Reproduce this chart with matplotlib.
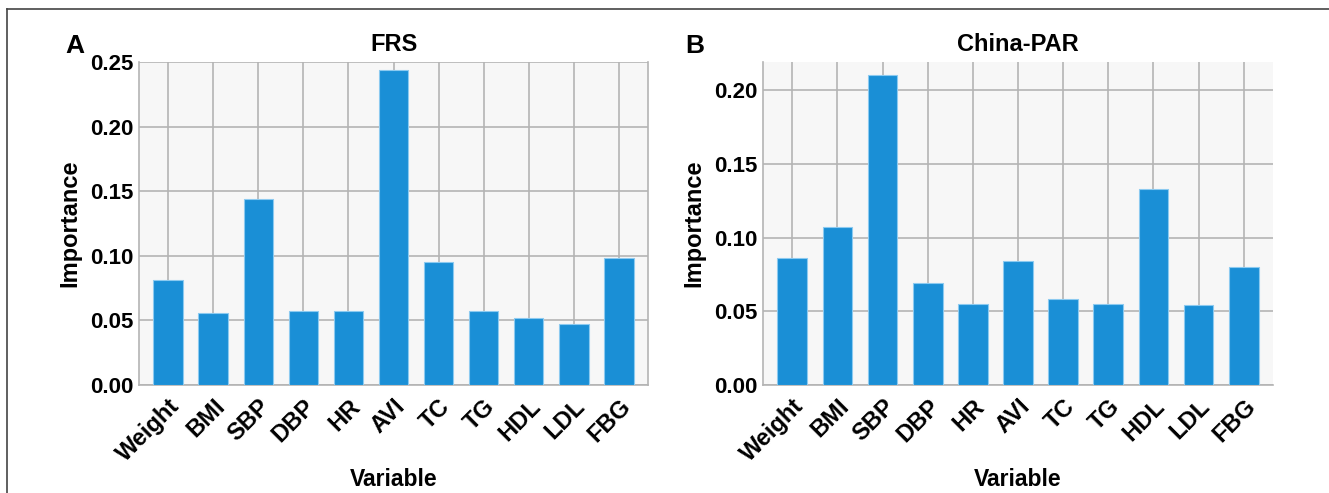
import numpy as np
import matplotlib.pyplot as plt
from matplotlib.lines import Line2D

plt.rcParams['font.family'] = ['Liberation Sans', 'DejaVu Sans']
plt.rcParams['font.weight'] = 'bold'

variables = ['Weight', 'BMI', 'SBP', 'DBP', 'HR', 'AVI', 'TC', 'TG', 'HDL', 'LDL', 'FBG']
frs = [0.081, 0.056, 0.144, 0.057, 0.057, 0.244, 0.095, 0.057, 0.052, 0.047, 0.098]
china_par = [0.086, 0.107, 0.210, 0.069, 0.055, 0.084, 0.058, 0.055, 0.133, 0.054, 0.080]

bar_color = '#1a8fd6'
grid_color = '#b4b4b4'
W, H = 1329, 493

fig = plt.figure(figsize=(W / 100, H / 100), dpi=100)
ax1 = fig.add_axes([139 / W, 1 - 385 / H, 509 / W, 323 / H])
ax2 = fig.add_axes([763 / W, 1 - 385 / H, 510 / W, 323 / H])

panels = [(ax1, frs, 'FRS', 0.25, [0, 0.05, 0.10, 0.15, 0.20, 0.25], True),
          (ax2, china_par, 'China-PAR', 0.219, [0, 0.05, 0.10, 0.15, 0.20], False)]

for ax, vals, title, ymax, yt, right_spine in panels:
    x = np.arange(len(variables))
    ax.set_facecolor('#f7f7f7')
    ax.set_axisbelow(True)
    ax.grid(True, color=grid_color, linewidth=1.2)
    ax.bar(x, vals, width=0.66, color=bar_color, edgecolor='#8ccaf0', linewidth=0.8, zorder=3)
    ax.set_xlim(-0.65, len(variables) - 0.35)
    ax.set_ylim(0, ymax)
    ax.set_yticks(yt)
    ax.set_yticklabels([f'{v:.2f}' for v in yt], fontsize=16, fontweight='bold')
    ax.set_xticks(x)
    ax.set_xticklabels(variables, rotation=45, ha='right', rotation_mode='anchor',
                       fontsize=17, fontweight='bold')
    ax.tick_params(axis='both', length=0, pad=4, colors='black')
    ax.tick_params(axis='x', pad=7)
    for s in ax.spines.values():
        s.set_color(grid_color)
        s.set_linewidth(1.2)
    ax.spines['top'].set_visible(False)
    ax.spines['right'].set_visible(right_spine)
    ax.set_title(title, fontsize=17, fontweight='bold', pad=8)
    ax.set_ylabel('Importance', fontsize=17, fontweight='bold', labelpad=6)
    ax.set_xlabel('Variable', fontsize=16.5, fontweight='bold', va='center')
    ax.xaxis.set_label_coords(0.5, -(480 - 385) / 323)

fig.text(65 / W, 1 - 46 / H, 'A', fontsize=19, fontweight='bold', va='center')
fig.text(685 / W, 1 - 46 / H, 'B', fontsize=19, fontweight='bold', va='center')

# frame lines on the figure edge
fig.add_artist(Line2D([7 / W, 7 / W], [0, 1 - 9 / H], color='#444444', linewidth=1.2))
fig.add_artist(Line2D([7 / W, 1], [1 - 9 / H, 1 - 9 / H], color='#444444', linewidth=1.2))

plt.savefig('out.png', dpi=100)
